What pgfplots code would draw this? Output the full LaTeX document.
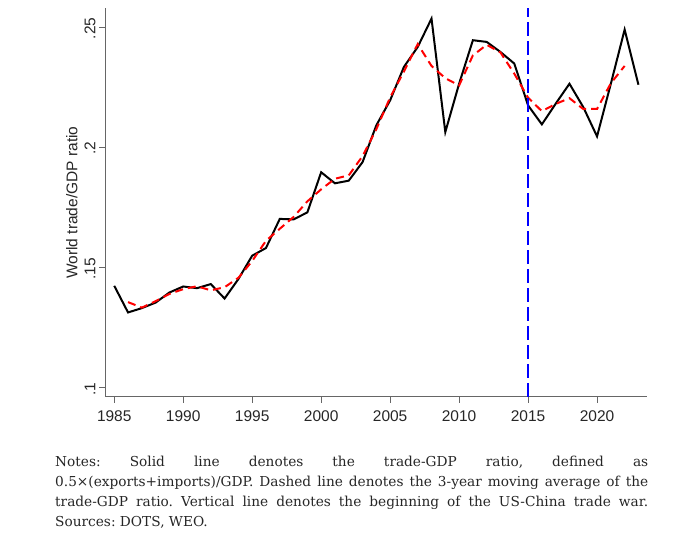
\documentclass[border=0pt]{standalone}
\usepackage{fontspec}
\setmainfont{Liberation Sans}
\newfontfamily\notefont{DejaVu Serif}
\usepackage{pgfplots}
\pgfplotsset{compat=1.18}
\begin{document}
\begin{tikzpicture}[x=1pt,y=1pt]
\path[use as bounding box] (0,0) rectangle (697,545);
\begin{axis}[
  at={(105pt,148pt)}, anchor=south west,
  scale only axis, width=541.7pt, height=389pt,
  xmin=1984.33, xmax=2023.6, ymin=0.09625, ymax=0.258,
  axis x line*=bottom, axis y line*=left,
  axis line style={-, draw=black!60, line width=1pt},
  tick style={draw=black!60, line width=1pt},
  tick align=outside, major tick length=6pt,
  xtick={1985,1990,1995,2000,2005,2010,2015,2020},
  xticklabels={1985,1990,1995,2000,2005,2010,2015,2020},
  ytick={0.1,0.15,0.2,0.25},
  yticklabels={.1,.15,.2,.25},
  /pgf/number format/assume math mode=true,
  ticklabel style={font=\fontsize{15.5}{18}\selectfont, text=black!85},
  xticklabel style={yshift=-4pt},
  yticklabel style={rotate=90, anchor=south, xshift=-1pt},
  ylabel={World trade/GDP ratio},
  ylabel style={font=\fontsize{15.5}{18}\selectfont, text=black!85},
  clip=false,
]
\addplot[black, line width=2pt] coordinates {
(1985,0.1425) (1986,0.1314) (1987,0.1332) (1988,0.1355) (1989,0.1397)
(1990,0.1422) (1991,0.1415) (1992,0.1432) (1993,0.1372) (1994,0.1453)
(1995,0.1550) (1996,0.1582) (1997,0.1703) (1998,0.1701) (1999,0.1730)
(2000,0.1897) (2001,0.1851) (2002,0.1862) (2003,0.1939) (2004,0.2092)
(2005,0.2196) (2006,0.2335) (2007,0.2418) (2008,0.2536) (2009,0.2064)
(2010,0.2265) (2011,0.2446) (2012,0.2439) (2013,0.2397) (2014,0.2349)
(2015,0.2175) (2016,0.2096) (2017,0.2182) (2018,0.2265) (2019,0.2168)
(2020,0.2046) (2021,0.2265) (2022,0.2490) (2023,0.2261)
};
\addplot[red, line width=2pt, dash pattern=on 8pt off 5pt] coordinates {
(1986,0.1357) (1987,0.1334) (1988,0.1361) (1989,0.1391) (1990,0.1411)
(1991,0.1423) (1992,0.1406) (1993,0.1419) (1994,0.1458) (1995,0.1528)
(1996,0.1612) (1997,0.1662) (1998,0.1711) (1999,0.1776) (2000,0.1826)
(2001,0.1870) (2002,0.1884) (2003,0.1964) (2004,0.2076) (2005,0.2208)
(2006,0.2316) (2007,0.2430) (2008,0.2339) (2009,0.2288) (2010,0.2258)
(2011,0.2383) (2012,0.2427) (2013,0.2395) (2014,0.2307) (2015,0.2207)
(2016,0.2151) (2017,0.2181) (2018,0.2205) (2019,0.2160) (2020,0.2160)
(2021,0.2267) (2022,0.2339)
};
\addplot[blue, line width=2.2pt, dash pattern=on 14pt off 5pt] coordinates {
(2015,0.09625) (2015,0.258)
};
\end{axis}
\node[anchor=north west, inner sep=0pt, text width=593pt, align=justify,
      font=\notefont\fontsize{13.7}{20.1}\selectfont, text=black!85] at (55,89)
{\frenchspacing\hyphenpenalty=10000 Notes: Solid line denotes the trade-GDP ratio, defined as\linebreak
0.5×(exports+imports)/GDP. Dashed line denotes the 3-year moving average of the\linebreak
trade-GDP ratio. Vertical line denotes the beginning of the US-China trade war.\linebreak
Sources: DOTS, WEO.};
\end{tikzpicture}
\end{document}
